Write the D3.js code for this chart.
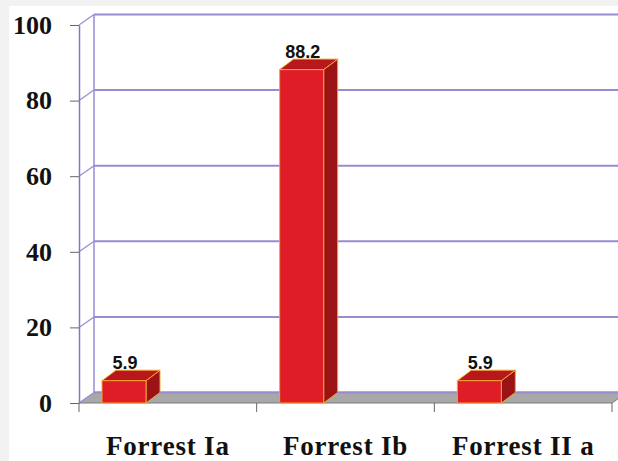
<!DOCTYPE html>
<html>
<head>
<meta charset="utf-8">
<script src="https://cdn.jsdelivr.net/npm/d3@7"></script>
<style>
  html, body { margin: 0; padding: 0; background: #ffffff; }
  svg { display: block; }
</style>
</head>
<body>
<svg id="chart" width="618" height="461"></svg>
<script>
// Share of cases by Forrest class (%)
const categories = ["Forrest Ia", "Forrest Ib", "Forrest II a"];
const values = [5.9, 88.2, 5.9];
const yTicks = [0, 20, 40, 60, 80, 100];

const W = 618, H = 461;
const svg = d3.select("#chart");

// plot frame (front plane)
const plotLeft = 79, plotRight = 612, plotTop = 25, plotBottom = 403;
// depth offset of the back wall and of each column
const DX = 15, DY = 10.5;
const BDX = 14, BDY = 10.5;

const x = d3.scaleBand().domain(categories).range([plotLeft, plotRight]);
const y = d3.scaleLinear().domain([0, 100]).range([plotBottom, plotTop]);

const gridColor = "#9a8ad2";
const axisColor = "#8474c8";

// page background with a faint frame on the top and left
svg.append("rect").attr("width", W).attr("height", H).attr("fill", "#f2f2f2");
svg.append("rect").attr("x", 9).attr("y", 6).attr("width", W - 9).attr("height", H - 6).attr("fill", "#ffffff");

// back wall gridlines
const wall = svg.append("g");
wall.selectAll("line.grid")
  .data(yTicks)
  .join("line")
  .attr("class", "grid")
  .attr("x1", plotLeft + DX).attr("x2", W)
  .attr("y1", d => y(d) - DY).attr("y2", d => y(d) - DY)
  .attr("stroke", gridColor).attr("stroke-width", 2);

// left edge of the back wall
wall.append("line")
  .attr("x1", plotLeft + DX).attr("x2", plotLeft + DX)
  .attr("y1", y(100) - DY).attr("y2", y(0) - DY)
  .attr("stroke", gridColor).attr("stroke-width", 1.5);

// floor
const floorPts = [[plotLeft, y(0)], [plotRight, y(0)], [plotRight + DX, y(0) - DY], [plotLeft + DX, y(0) - DY]];
svg.append("polygon")
  .attr("points", floorPts.map(p => p.join(",")).join(" "))
  .attr("fill", "#a8a8a8");
svg.append("line")
  .attr("x1", plotLeft + DX).attr("x2", W)
  .attr("y1", y(0) - DY).attr("y2", y(0) - DY)
  .attr("stroke", gridColor).attr("stroke-width", 2);
svg.append("line")
  .attr("x1", plotLeft).attr("x2", plotRight)
  .attr("y1", y(0)).attr("y2", y(0))
  .attr("stroke", "#7a7a7a").attr("stroke-width", 1.2);
svg.append("line")
  .attr("x1", plotRight).attr("x2", plotRight + DX)
  .attr("y1", y(0)).attr("y2", y(0) - DY)
  .attr("stroke", "#7a7a7a").attr("stroke-width", 1);

// diagonal connectors from the front axis to the back wall
svg.append("g").selectAll("line")
  .data(yTicks)
  .join("line")
  .attr("x1", plotLeft).attr("x2", plotLeft + DX)
  .attr("y1", d => y(d)).attr("y2", d => y(d) - DY)
  .attr("stroke", gridColor).attr("stroke-width", 1.2);

// value axis
const yAxis = d3.axisLeft(y)
  .tickValues(yTicks)
  .tickSize(9)
  .tickSizeOuter(0)
  .tickPadding(18)
  .tickFormat(d3.format("d"));
const gy = svg.append("g").attr("transform", `translate(${plotLeft},0)`).call(yAxis);
gy.select(".domain").attr("stroke", axisColor).attr("stroke-width", 1.5);
gy.selectAll(".tick line").attr("stroke", "#666").attr("stroke-width", 1);
gy.selectAll(".tick text")
  .attr("fill", "#111")
  .style("font-family", "'Liberation Serif', 'DejaVu Serif', serif")
  .style("font-weight", "bold")
  .style("font-size", "26px");

// category axis (labels centred in each band)
const xAxis = d3.axisBottom(x).tickSize(0).tickPadding(33);
const gx = svg.append("g").attr("transform", `translate(0,${y(0)})`).call(xAxis);
gx.select(".domain").remove();
gx.selectAll(".tick text")
  .attr("fill", "#111")
  .style("font-family", "'Liberation Serif', 'DejaVu Serif', serif")
  .style("font-weight", "bold")
  .style("font-size", "27px")
  .style("letter-spacing", "0.8px");

// tick marks on the band boundaries
const bounds = categories.map(c => x(c)).concat([x.range()[1]]);
svg.append("g").selectAll("line")
  .data(bounds)
  .join("line")
  .attr("x1", d => d).attr("x2", d => d)
  .attr("y1", y(0)).attr("y2", y(0) + 9)
  .attr("stroke", "#666").attr("stroke-width", 1);

// 3D columns
const barOffset = 23, barW = 44;
const edge = "#f2a531";
const bars = svg.append("g").selectAll("g.bar")
  .data(categories.map((c, i) => ({ c, v: values[i] })))
  .join("g").attr("class", "bar");

bars.each(function (d) {
  const g = d3.select(this);
  const x0 = x(d.c) + barOffset, x1 = x0 + barW;
  const yt = y(d.v), yb = y(0);
  const poly = pts => pts.map(p => p.join(",")).join(" ");
  // side face
  g.append("polygon")
    .attr("points", poly([[x1, yt], [x1 + BDX, yt - BDY], [x1 + BDX, yb - BDY], [x1, yb]]))
    .attr("fill", "#9c1316").attr("stroke", edge).attr("stroke-width", 1).attr("stroke-linejoin", "round");
  // top face
  g.append("polygon")
    .attr("points", poly([[x0, yt], [x1, yt], [x1 + BDX, yt - BDY], [x0 + BDX, yt - BDY]]))
    .attr("fill", "#b8181c").attr("stroke", edge).attr("stroke-width", 1).attr("stroke-linejoin", "round");
  // front face
  g.append("rect")
    .attr("x", x0).attr("y", yt).attr("width", barW).attr("height", yb - yt)
    .attr("fill", "#de1d26").attr("stroke", edge).attr("stroke-width", 1);
  // value label
  g.append("text")
    .attr("x", x0 + barW / 2 + 1).attr("y", yt - 12)
    .attr("text-anchor", "middle")
    .attr("fill", "#111")
    .style("font-family", "'Liberation Sans', Arial, sans-serif")
    .style("font-weight", "bold")
    .style("font-size", "18px")
    .text(d3.format(".1f")(d.v));
});
</script>
</body>
</html>
